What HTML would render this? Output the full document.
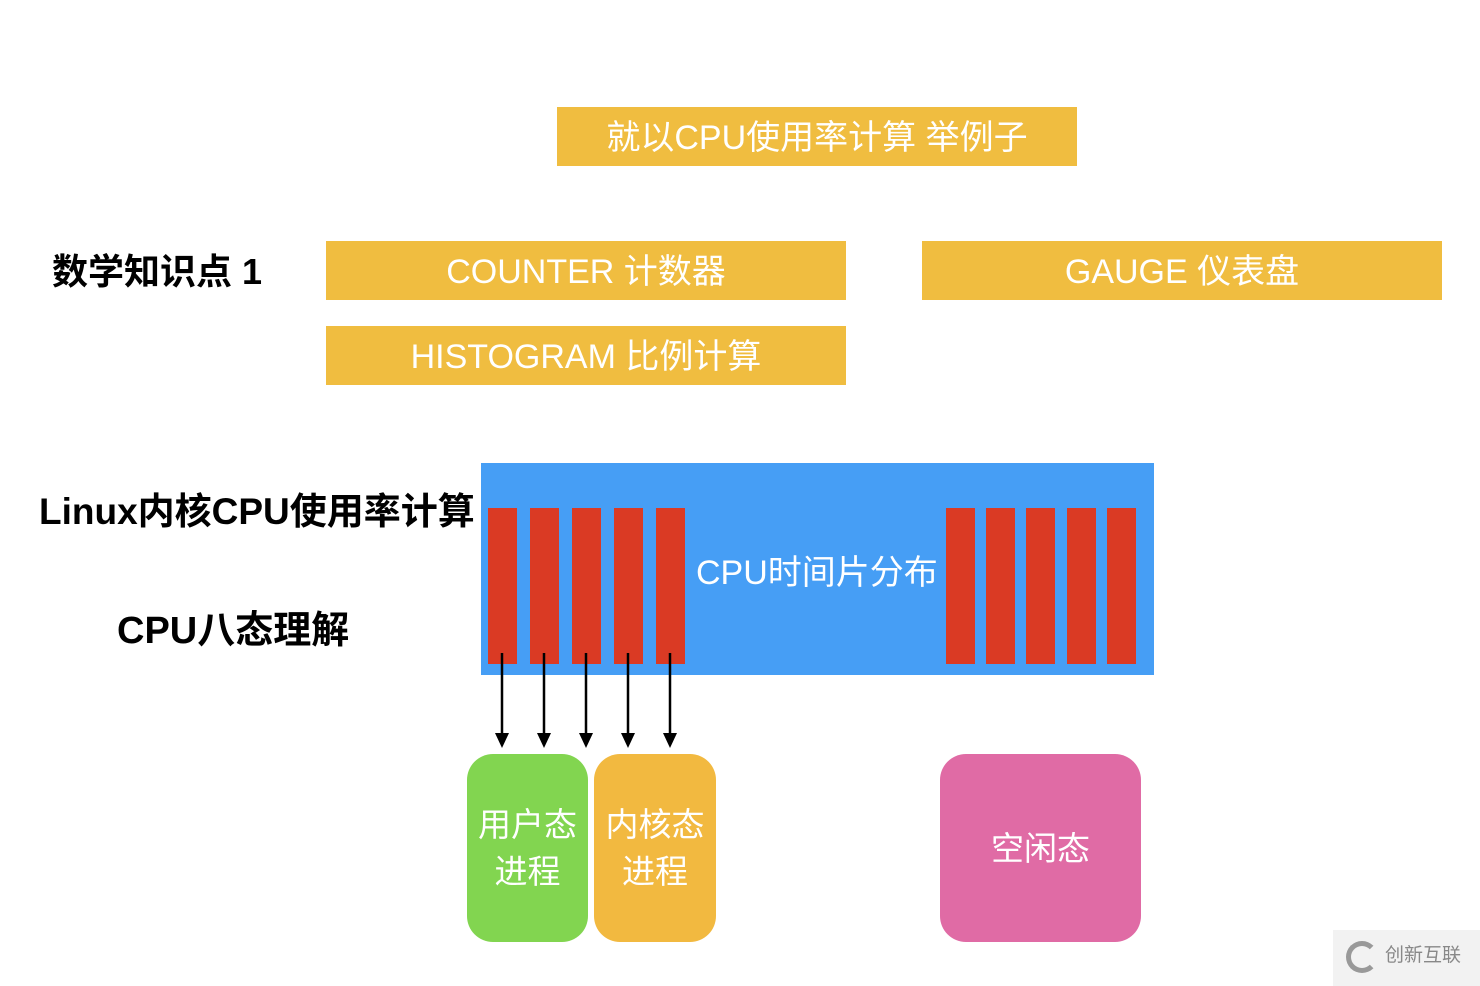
<!DOCTYPE html>
<html><head><meta charset="utf-8"><style>
body{margin:0;width:1480px;height:986px;background:#fff;position:relative;overflow:hidden;font-family:"Liberation Sans","Noto Sans CJK SC",sans-serif}
.a{position:absolute;box-sizing:border-box}
.y{background:#F0BD40;color:#fff;font-size:34px;display:flex;align-items:center;justify-content:center;padding-bottom:5px}
.bar{position:absolute;background:#DA3A24;width:29px;top:508px;height:156px}
.lbl{position:absolute;font-weight:bold;font-size:37px;color:#000;white-space:nowrap}
.rb{position:absolute;border-radius:26px;color:#fff;font-size:33px;display:flex;align-items:center;justify-content:center;text-align:center;line-height:47px}
</style></head><body>
<div class="a y" style="left:557px;top:107px;width:520px;height:59px">就以CPU使用率计算 举例子</div>
<div class="lbl" style="left:52px;top:243px;font-size:36px">数学知识点 1</div>
<div class="a y" style="left:326px;top:241px;width:520px;height:59px">COUNTER 计数器</div>
<div class="a y" style="left:922px;top:241px;width:520px;height:59px">GAUGE 仪表盘</div>
<div class="a y" style="left:326px;top:326px;width:520px;height:59px">HISTOGRAM 比例计算</div>
<div class="lbl" style="left:39px;top:481px">Linux内核CPU使用率计算</div>
<div class="lbl" style="left:117px;top:599px;font-size:38px">CPU八态理解</div>
<div class="a" style="left:481px;top:463px;width:673px;height:212px;background:#469EF5"></div>
<div class="bar" style="left:488px"></div><div class="bar" style="left:530px"></div><div class="bar" style="left:572px"></div><div class="bar" style="left:614px"></div><div class="bar" style="left:656px"></div>
<div class="bar" style="left:946px"></div><div class="bar" style="left:986px"></div><div class="bar" style="left:1026px"></div><div class="bar" style="left:1067px"></div><div class="bar" style="left:1107px"></div>
<div class="a" style="left:696px;top:545px;color:#fff;font-size:34px;white-space:nowrap">CPU时间片分布</div>
<svg class="a" style="left:0;top:0" width="1480" height="986">
<g stroke="#000" stroke-width="2.5" fill="#000">
<line x1="502" y1="653" x2="502" y2="735"/><polygon points="495,733 509,733 502,748" stroke="none"/>
<line x1="544" y1="653" x2="544" y2="735"/><polygon points="537,733 551,733 544,748" stroke="none"/>
<line x1="586" y1="653" x2="586" y2="735"/><polygon points="579,733 593,733 586,748" stroke="none"/>
<line x1="628" y1="653" x2="628" y2="735"/><polygon points="621,733 635,733 628,748" stroke="none"/>
<line x1="670" y1="653" x2="670" y2="735"/><polygon points="663,733 677,733 670,748" stroke="none"/>
</g></svg>
<div class="rb" style="left:467px;top:754px;width:121px;height:188px;background:#82D550">用户态<br>进程</div>
<div class="rb" style="left:594px;top:754px;width:122px;height:188px;background:#F2B940">内核态<br>进程</div>
<div class="rb" style="left:940px;top:754px;width:201px;height:188px;background:#E06BA5">空闲态</div>
<div class="a" style="left:1333px;top:930px;width:147px;height:56px;background:#f2f2f2;color:#888;font-size:19px;padding:10px 0 0 52px">创新互联</div>
<div class="a" style="left:1346px;top:941px;width:32px;height:32px;border:5px solid #999;border-radius:50%;border-right-color:transparent"></div>
</body></html>
